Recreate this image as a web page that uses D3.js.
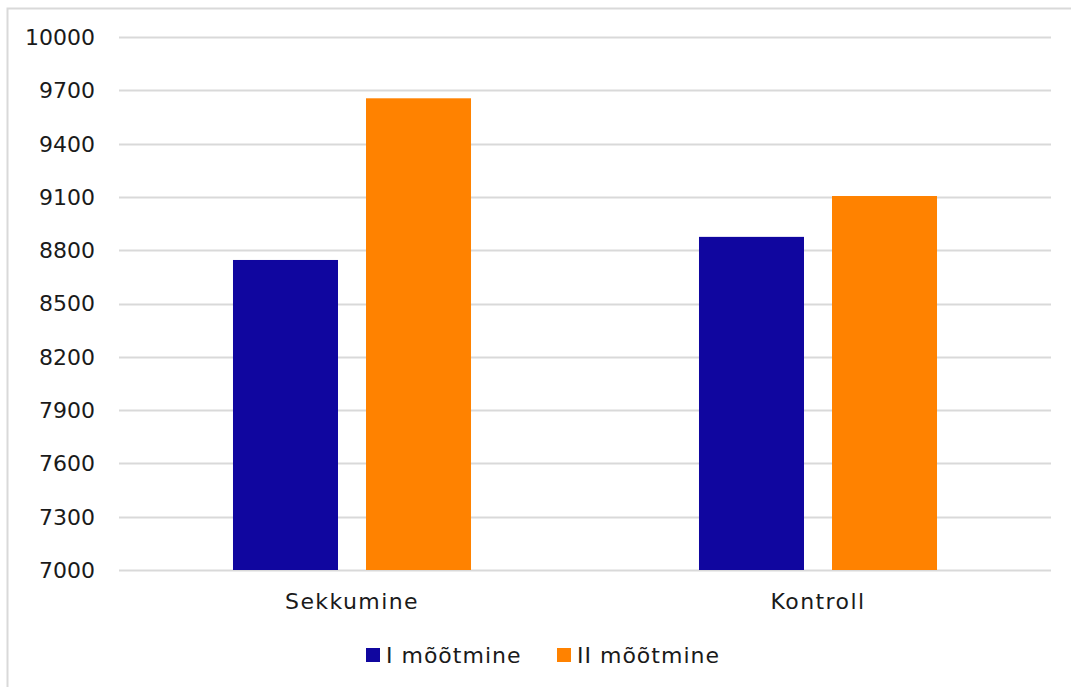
<!DOCTYPE html>
<html lang="et">
<head>
<meta charset="utf-8">
<script src="https://d3js.org/d3.v7.min.js"></script>
<style>
  body { margin: 0; background: #fff; }
  text { font-family: "DejaVu Sans", "Open Sans", sans-serif; fill: #1a1a1a; }
</style>
</head>
<body>
<div id="chart"></div>
<script>
// data
const categories = ["Sekkumine", "Kontroll"];
const seriesNames = ["I mõõtmine", "II mõõtmine"];
const seriesColors = ["#10069f", "#ff8200"];
const mootmine1 = [8745, 8875];
const mootmine2 = [9655, 9105];
const yTicks = [7000, 7300, 7600, 7900, 8200, 8500, 8800, 9100, 9400, 9700, 10000];

const W = 1071, H = 687;
const margin = {top: 37, right: 20, bottom: 117, left: 119};

const svg = d3.select("#chart").append("svg")
  .attr("width", W).attr("height", H);

// outer frame
svg.append("rect")
  .attr("x", 7.5).attr("y", 8.5)
  .attr("width", W + 10).attr("height", H + 10)
  .attr("fill", "none").attr("stroke", "#d9d9d9").attr("stroke-width", 2);

const x0 = d3.scaleBand()
  .domain(categories)
  .range([margin.left, 1051]);

const x1 = d3.scaleBand()
  .domain(seriesNames)
  .range([0, x0.bandwidth()])
  .paddingInner(0.2105)
  .paddingOuter(0.857);

const y = d3.scaleLinear()
  .domain([7000, 10000])
  .range([570, margin.top]);

// grid
svg.append("g")
  .selectAll("line")
  .data(yTicks)
  .join("line")
  .attr("x1", margin.left).attr("x2", 1051)
  .attr("y1", d => Math.round(y(d)) + 0.5).attr("y2", d => Math.round(y(d)) + 0.5)
  .attr("stroke", "#d9d9d9").attr("stroke-width", 2);

// y labels
svg.append("g")
  .selectAll("text")
  .data(yTicks)
  .join("text")
  .attr("x", 95)
  .attr("y", d => y(d))
  .attr("dy", "0.36em")
  .attr("text-anchor", "end")
  .attr("font-size", 22)
  .text(d => d);

// bars
const rows = categories.map((c, i) => ({cat: c, vals: [mootmine1[i], mootmine2[i]]}));
svg.append("g")
  .selectAll("g")
  .data(rows)
  .join("g")
  .attr("transform", d => `translate(${x0(d.cat)},0)`)
  .selectAll("rect")
  .data(d => d.vals.map((v, j) => ({name: seriesNames[j], v: v, c: seriesColors[j]})))
  .join("rect")
  .attr("x", d => x1(d.name))
  .attr("width", x1.bandwidth())
  .attr("y", d => y(d.v))
  .attr("height", d => y(7000) - y(d.v))
  .attr("fill", d => d.c);

// category labels
svg.append("g")
  .selectAll("text")
  .data(categories)
  .join("text")
  .attr("x", d => x0(d) + x0.bandwidth() / 2)
  .attr("y", 601)
  .attr("dy", "0.36em")
  .attr("text-anchor", "middle")
  .attr("font-size", 22)
  .attr("letter-spacing", 1.4)
  .text(d => d);

// legend
const legendX = [366, 557];
const lg = svg.append("g")
  .selectAll("g")
  .data(seriesNames)
  .join("g")
  .attr("transform", (d, i) => `translate(${legendX[i]},655)`);
lg.append("rect")
  .attr("x", 0).attr("y", -7).attr("width", 14).attr("height", 14)
  .attr("fill", (d, i) => seriesColors[i]);
lg.append("text")
  .attr("x", 20).attr("dy", "0.36em")
  .attr("font-size", 22)
  .attr("letter-spacing", 1.0)
  .text(d => d);
</script>
</body>
</html>
